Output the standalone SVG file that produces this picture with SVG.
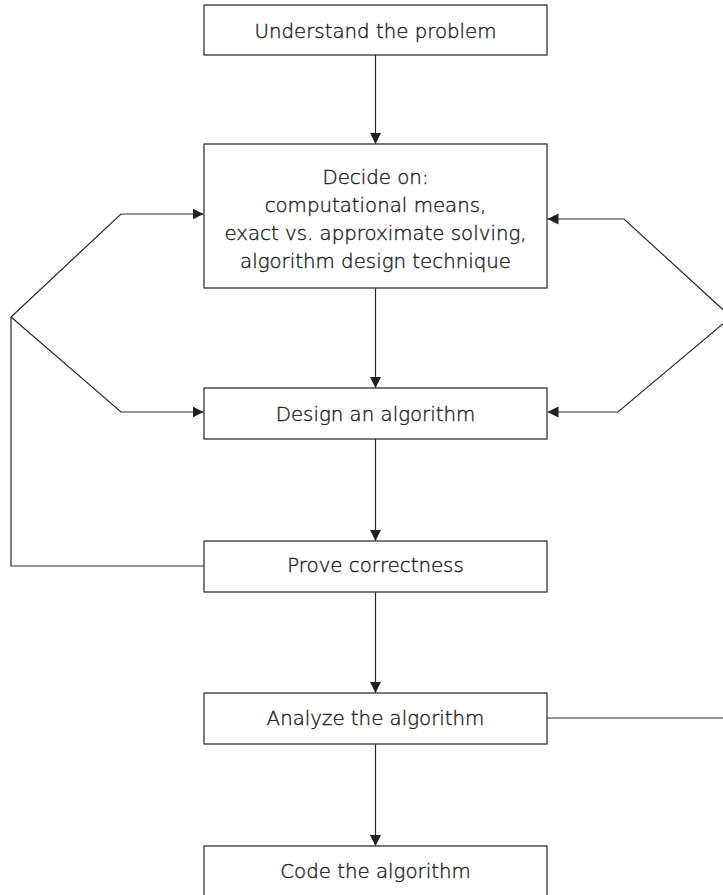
<svg xmlns="http://www.w3.org/2000/svg" width="723" height="895" viewBox="0 0 723 895">
<defs>
<style>
.box{fill:#fff;stroke:#333;stroke-width:1.3}
.lbl{font-family:"DejaVu Sans","Liberation Sans",sans-serif;font-size:19.8px;font-weight:300;fill:#1e1e1e;stroke:#1e1e1e;stroke-width:0.4;text-anchor:middle}
.conn{fill:none;stroke:#2a2a2a;stroke-width:1.2}
</style>
<marker id="ah" markerUnits="userSpaceOnUse" markerWidth="12" markerHeight="12" refX="11" refY="5.5" orient="auto">
<path d="M0,0 L11,5.5 L0,11 Z" fill="#231f20"/>
</marker>
</defs>
<rect width="723" height="895" fill="#fff"/>
<g id="connectors">
<line class="conn" x1="375.5" y1="55" x2="375.5" y2="144" marker-end="url(#ah)"/>
<line class="conn" x1="375.5" y1="288" x2="375.5" y2="388" marker-end="url(#ah)"/>
<line class="conn" x1="375.5" y1="439" x2="375.5" y2="541" marker-end="url(#ah)"/>
<line class="conn" x1="375.5" y1="592" x2="375.5" y2="693" marker-end="url(#ah)"/>
<line class="conn" x1="375.5" y1="744" x2="375.5" y2="846" marker-end="url(#ah)"/>
<polyline class="conn" points="204,566 11,566 11,317"/>
<polyline class="conn" points="11,317 121,214 203.5,214" marker-end="url(#ah)"/>
<polyline class="conn" points="11,317 121,412 203.5,412" marker-end="url(#ah)"/>
<polyline class="conn" points="547,718 731,718 731,317"/>
<polyline class="conn" points="731,317 624,219 547.5,219" marker-end="url(#ah)"/>
<polyline class="conn" points="731,317 618,412 547.5,412" marker-end="url(#ah)"/>
</g>
<g id="understand">
<rect class="box" x="204" y="5" width="343" height="50"/>
<text class="lbl" x="375.5" y="37.5">Understand the problem</text>
</g>
<g id="decide">
<rect class="box" x="204" y="144" width="343" height="144"/>
<text class="lbl" x="375.5" y="184">Decide on:</text>
<text class="lbl" x="375.5" y="212">computational means,</text>
<text class="lbl" x="375.5" y="240">exact vs. approximate solving,</text>
<text class="lbl" x="375.5" y="268">algorithm design technique</text>
</g>
<g id="design">
<rect class="box" x="204" y="388" width="343" height="51"/>
<text class="lbl" x="375.5" y="421">Design an algorithm</text>
</g>
<g id="prove">
<rect class="box" x="204" y="541" width="343" height="51"/>
<text class="lbl" x="375.5" y="572">Prove correctness</text>
</g>
<g id="analyze">
<rect class="box" x="204" y="693" width="343" height="51"/>
<text class="lbl" x="375.5" y="725">Analyze the algorithm</text>
</g>
<g id="code">
<rect class="box" x="204" y="846" width="343" height="51"/>
<text class="lbl" x="375.5" y="878">Code the algorithm</text>
</g>
</svg>
